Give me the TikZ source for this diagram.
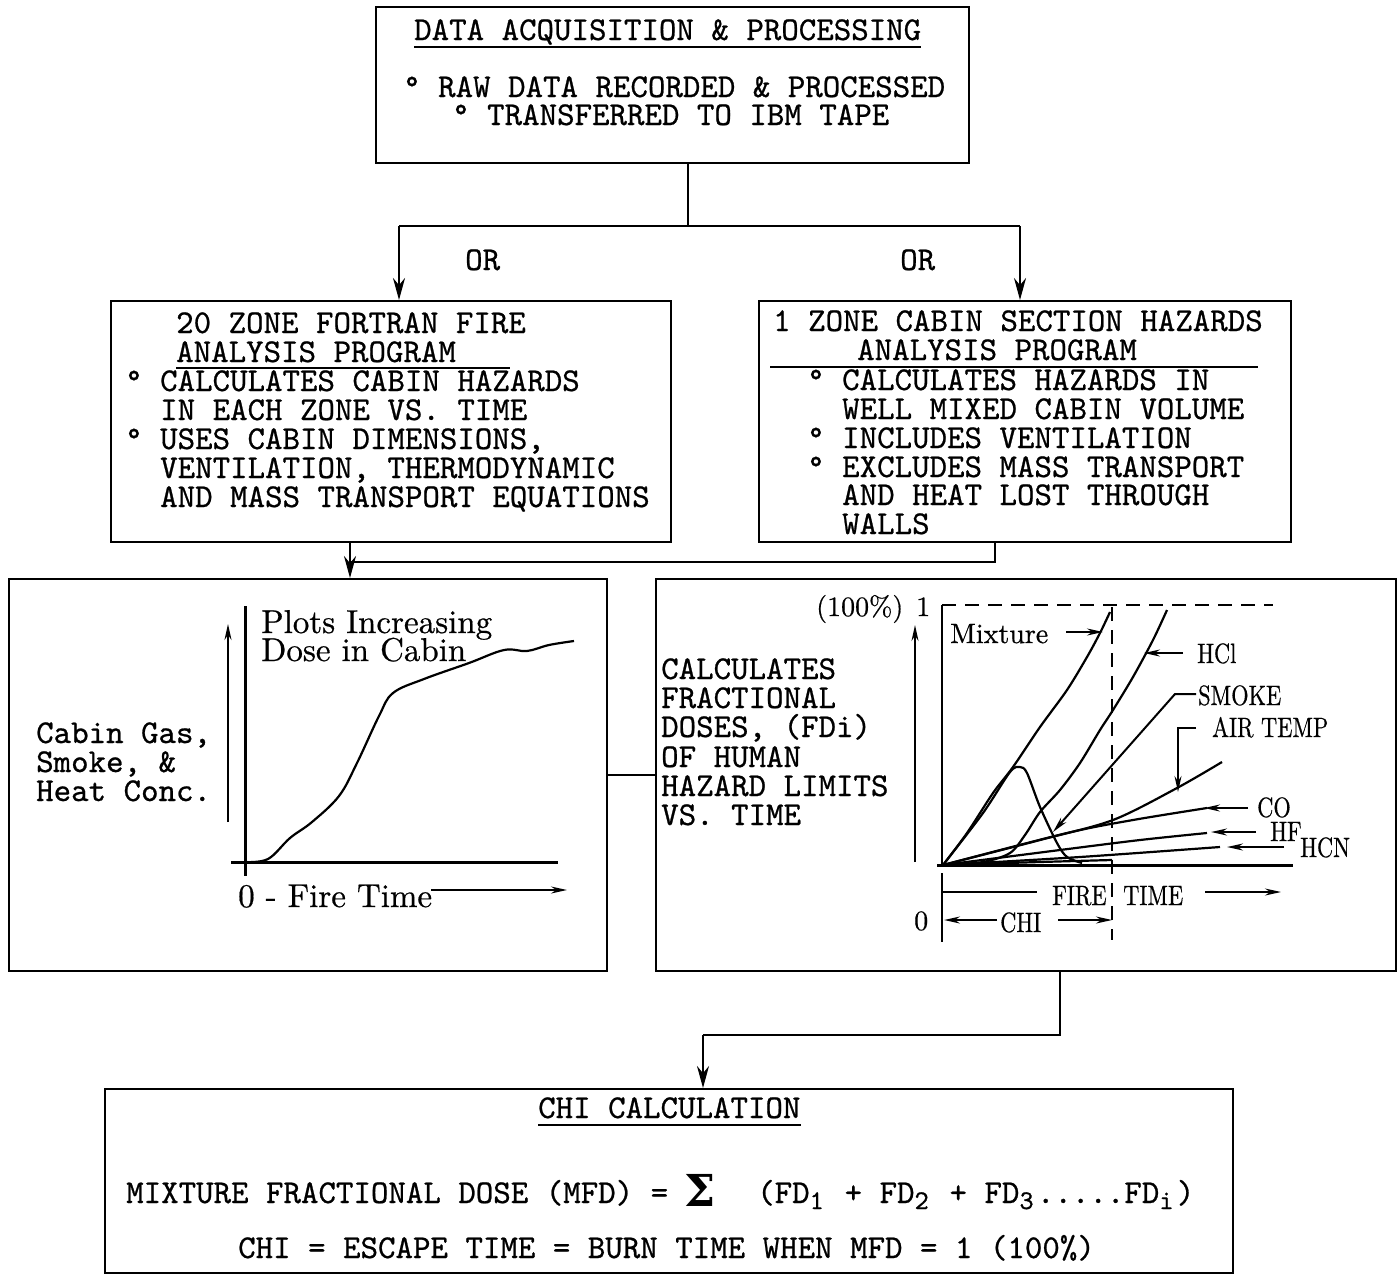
\documentclass[tikz,border=0pt]{standalone}
\usepackage{fontspec}
\usepackage{graphicx}
\setmonofont{lmmono10-regular.otf}[FakeBold=0.7]
\setmainfont{lmroman10-regular.otf}[FakeBold=0.6]
\newfontfamily\sigfnt{DejaVu Serif}
\usetikzlibrary{arrows.meta}
\newcommand\monofnt{\fontsize{33.3}{29}\selectfont\ttfamily}
\newcommand\serfnt{\fontsize{33}{29}\selectfont\rmfamily}
\newcommand\labfnt{\fontsize{28}{28}\selectfont\rmfamily}
\newcommand\cnd[1]{\scalebox{0.8}[1]{#1}}
\newcommand\lowsub[1]{\makebox[17.5pt][l]{\raisebox{-6pt}{\fontsize{27}{27}\selectfont #1}}}
\begin{document}
\begin{tikzpicture}[x=1pt,y=-1pt,
  box/.style={draw, line width=2.2pt, anchor=north west, inner sep=0pt},
  mt/.style={anchor=base west, inner sep=0pt, font=\monofnt, text height=21pt, text depth=6pt},
  st/.style={anchor=base west, inner sep=0pt, font=\serfnt, text height=22pt, text depth=5pt},
  lt/.style={anchor=base west, inner sep=0pt, font=\labfnt},
  conn/.style={line width=2.2pt},
  arr/.style={line width=2.2pt, -{Stealth[length=22pt,width=12pt]}},
  parr/.style={line width=2pt, -{Stealth[length=16pt,width=7pt]}},
  curve/.style={line width=2.2pt, line join=round},
  dsh/.style={line width=2pt, dash pattern=on 14pt off 9pt},
  ul/.style={line width=1.8pt}]
\fill[white] (0,0) rectangle (1397,1274);
\useasboundingbox (0,0) rectangle (1397,1274);

% ---------- boxes ----------
\node[box, minimum width=593pt, minimum height=156pt] (top) at (375,6) {};
\node[box, minimum width=560pt, minimum height=241pt] (left) at (110,300) {};
\node[box, minimum width=532pt, minimum height=241pt] (right) at (758,300) {};
\node[box, minimum width=598pt, minimum height=392pt] (boxL) at (8,578) {};
\node[box, minimum width=740pt, minimum height=392pt] (boxR) at (655,578) {};
\node[box, minimum width=1128pt, minimum height=184pt] (chi) at (104,1088) {};

% ---------- top box text ----------
\node[mt] (t1) at (414,40) {DATA ACQUISITION \& PROCESSING};
\draw[ul] ([yshift=-7pt]t1.base west) -- ([yshift=-7pt]t1.base east);
\node[mt] (t2) at (403,97) {° RAW DATA RECORDED \& PROCESSED};
\node[mt] (t3) at (452,125) {° TRANSFERRED TO IBM TAPE};

% ---------- connectors top -> middle ----------
\coordinate (j0) at (688,226);
\coordinate (jl) at (399,226);
\coordinate (jr) at (1020,226);
\draw[conn] (j0 |- top.south) -- (j0);
\draw[conn] (jl) -- (jr);
\draw[arr] (jl) -- (jl |- left.north);
\draw[arr] (jr) -- (jr |- right.north);
\node[mt] (or1) at (465,270) {OR};
\node[mt] (or2) at (900,270) {OR};

% ---------- middle left ----------
\node[mt] (a1) at (176,333) {20 ZONE FORTRAN FIRE};
\node[mt] (a2) at (176,362) {ANALYSIS PROGRAM};
\draw[ul] ([yshift=-6pt]a2.base west) -- ++(334,0);
\node[mt] (a3) at (125,391) {° CALCULATES CABIN HAZARDS};
\node[mt] (a4) at (160,420) {IN EACH ZONE VS. TIME};
\node[mt] (a5) at (125,449) {° USES CABIN DIMENSIONS,};
\node[mt] (a6) at (160,478) {VENTILATION, THERMODYNAMIC};
\node[mt] (a7) at (160,507) {AND MASS TRANSPORT EQUATIONS};

% ---------- middle right ----------
\node[mt] (b1) at (773,331) {1 ZONE CABIN SECTION HAZARDS};
\node[mt] (b2) at (857,360) {ANALYSIS PROGRAM};
\draw[ul] (770,367) -- (1258,367);
\node[mt] (b3) at (807,390) {° CALCULATES HAZARDS IN};
\node[mt] (b4) at (842,419) {WELL MIXED CABIN VOLUME};
\node[mt] (b5) at (807,448) {° INCLUDES VENTILATION};
\node[mt] (b6) at (807,477) {° EXCLUDES MASS TRANSPORT};
\node[mt] (b7) at (842,505) {AND HEAT LOST THROUGH};
\node[mt] (b8) at (842,534) {WALLS};

% ---------- connectors middle -> third row ----------
\coordinate (k1) at (350,562);
\coordinate (k2) at (995,562);
\draw[arr] (k1 |- left.south) -- (k1 |- boxL.north);
\draw[conn] (k2 |- right.south) -- (k2) -- (k1);
\draw[conn] (boxL.east) -- (boxR.west);

% ---------- left plot ----------
\node[st] (p1) at (261,633) {Plots Increasing};
\node[st] (p2) at (261,661) {Dose in Cabin};
\node[mt] (c1) at (36,743) {Cabin Gas,};
\node[mt] (c2) at (36,772) {Smoke, \&};
\node[mt] (c3) at (36,801) {Heat Conc.};
\node[st] (ft) at (238,907) {0 - Fire Time};
\draw[line width=3pt] (245,606) -- (245,876);
\draw[line width=3pt] (231,862) -- (558,862);
\draw[parr] (228,822) -- (228,624);
\draw[parr] (431,890) -- (567,890);
\draw[curve] plot[smooth, tension=0.6] coordinates {(245,862) (268,859) (290,838) (312,822) (339,796) (357,763) (379,716) (393,693) (424,679) (469,663) (504,650) (527,651) (549,645) (574,641)};

% ---------- right box text ----------
\node[mt] (r1) at (661,679) {CALCULATES};
\node[mt] (r2) at (661,708) {FRACTIONAL};
\node[mt] (r3) at (661,737) {DOSES, (FDi)};
\node[mt] (r4) at (661,767) {OF HUMAN};
\node[mt] (r5) at (661,796) {HAZARD LIMITS};
\node[mt] (r6) at (661,825) {VS. TIME};

% ---------- right plot ----------
\node[lt] (hp) at (816,616) {(100\%)};
\node[lt] (one) at (916,616) {1};
\draw[line width=2.5pt] (942,605) -- (942,867);
\draw[dsh] (942,605) -- (1273,605);
\draw[parr] (915,862) -- (915,625);
\draw[line width=3pt] (937,865) -- (1293,865);
\draw[dsh] (1112,607) -- (1112,940);
% curves
\draw[curve] plot[smooth] coordinates {(943,865) (967,833) (993,793) (1013,767) (1040,727) (1067,690) (1087,657) (1100,633) (1110,612)};
\draw[curve] plot[smooth, tension=0.5] coordinates {(943,865) (983,813) (1010,772) (1020,767) (1027,773) (1040,807) (1057,843) (1067,857) (1082,863)};
\draw[curve] plot[smooth] coordinates {(943,865) (983,862) (1010,853) (1025,835) (1040,812) (1060,790) (1080,763) (1100,730) (1113,710) (1133,677) (1153,640) (1167,610)};
\draw[curve] plot[smooth] coordinates {(943,865) (1040,840) (1113,820) (1177,788) (1222,762)};
\draw[curve] plot[smooth] coordinates {(943,865) (1067,833) (1133,820) (1207,808)};
\draw[curve] plot[smooth] coordinates {(943,865) (1060,850) (1140,840) (1207,833)};
\draw[curve] plot[smooth] coordinates {(943,865) (1080,857) (1220,847)};
\draw[curve] plot[smooth] coordinates {(943,865) (1040,862) (1112,860)};
% labels and leaders
\node[lt] (mix) at (950,643) {Mixture};
\draw[parr] (1066,632) -- (1103,632);
\node[lt] (hcl) at (1197,663) {\cnd{HCl}};
\draw[parr] (1183,653) -- (1144,653);
\node[lt] (smk) at (1198,705) {\cnd{SMOKE}};
\draw[parr] (1196,694) -- (1175,694) -- (1053,832);
\node[lt] (air) at (1212,737) {\cnd{AIR TEMP}};
\draw[parr] (1196,728) -- (1178,728) -- (1178,792);
\node[lt] (co) at (1257,817) {\cnd{CO}};
\draw[parr] (1248,808) -- (1204,808);
\node[lt] (hf) at (1270,841) {\cnd{HF}};
\draw[parr] (1256,832) -- (1211,832);
\node[lt] (hcn) at (1300,857) {\cnd{HCN}};
\draw[parr] (1284,847) -- (1227,847);
% below axis
\draw[line width=2.5pt] (942,873) -- (942,942);
\draw[conn] (943,892) -- (1037,892);
\node[lt] (fire) at (1052,905) {\cnd{FIRE}};
\node[lt] (time) at (1123,905) {\cnd{TIME}};
\draw[parr] (1205,892) -- (1281,892);
\node[lt] (zero) at (914,930) {0};
\node[lt] (chil) at (1000,932) {\cnd{CHI}};
\draw[parr] (997,920) -- (944,920);
\draw[parr] (1058,920) -- (1112,920);

% ---------- connector to bottom ----------
\coordinate (m1) at (1060,1035);
\coordinate (m2) at (703,1035);
\draw[conn] (m1 |- boxR.south) -- (m1) -- (m2);
\draw[arr] (m2) -- (m2 |- chi.north);

% ---------- bottom box ----------
\node[mt] (e1) at (538,1118) {CHI CALCULATION};
\draw[ul] ([yshift=-7pt]e1.base west) -- ([yshift=-7pt]e1.base east);
\node[mt] (e2) at (126,1203) {MIXTURE FRACTIONAL DOSE (MFD) =};
\node[anchor=base, inner sep=0pt] (sig) at (700,1206) {\fontsize{44}{44}\selectfont\sigfnt\bfseries Σ};
\node[mt] (e3) at (757,1203) {(FD\lowsub1 + FD\lowsub2 + FD\lowsub3.....FD\lowsub{i})};
\node[mt] (e4) at (238,1258) {CHI = ESCAPE TIME = BURN TIME WHEN MFD = 1 (100\%)};
\end{tikzpicture}
\end{document}
